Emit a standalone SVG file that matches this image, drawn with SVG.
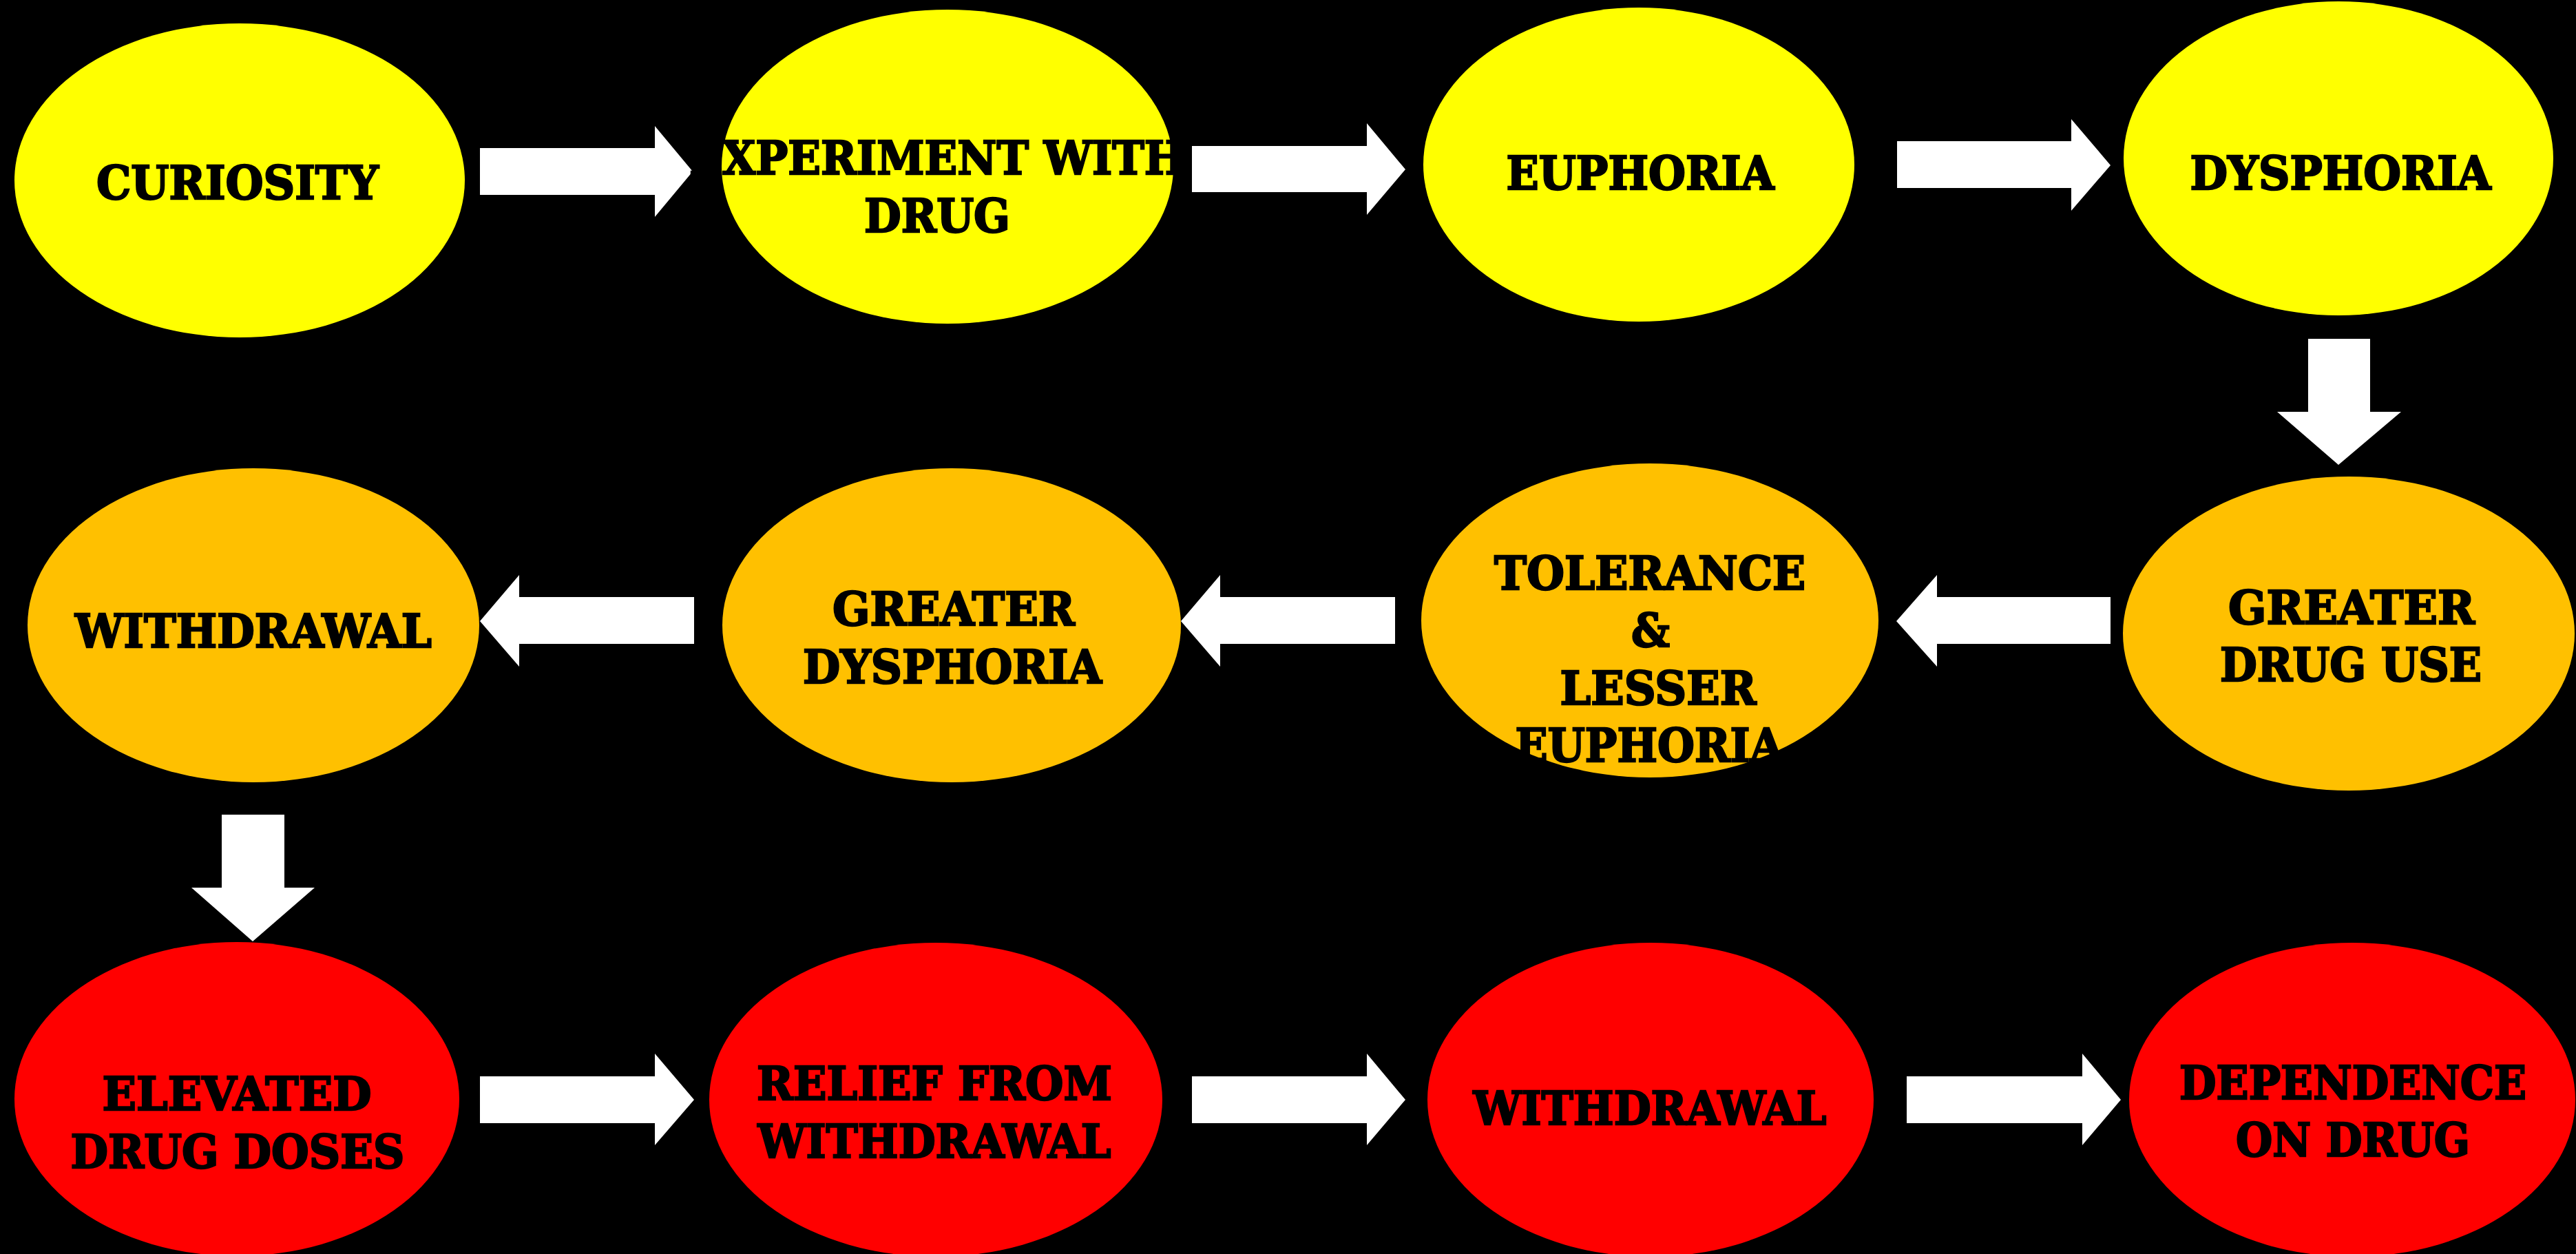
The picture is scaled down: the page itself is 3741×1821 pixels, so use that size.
<svg xmlns="http://www.w3.org/2000/svg" width="3741" height="1821" viewBox="0 0 3741 1821">
<style>
.y{fill:#FFFF00}.o{fill:#FFC000}.r{fill:#FF0000}
.t{font-family:"DejaVu Serif","Liberation Serif",serif;font-weight:bold;font-size:68px;fill:#000;stroke:#000;stroke-width:2.5px;text-anchor:middle}
.a{fill:#FFFFFF}
</style>
<rect x="0" y="0" width="3741" height="1821" fill="#000"/>
<g id="connectors">
<polygon class="a" points="697,215 951,215 951,183 1006,249 951,315 951,283 697,283"/>
<polygon class="a" points="1731,212 1985,212 1985,179 2041,246 1985,312 1985,279 1731,279"/>
<polygon class="a" points="2755,205 3008,205 3008,173 3065,240 3008,306 3008,273 2755,273"/>
<polygon class="a" points="3352,492 3442,492 3442,598 3487,598 3396,675 3307,598 3352,598"/>
<polygon class="a" points="3065,867 2813,867 2813,835 2754,902 2813,968 2813,935 3065,935"/>
<polygon class="a" points="2026,867 1772,867 1772,835 1715,902 1772,968 1772,935 2026,935"/>
<polygon class="a" points="1008,867 754,867 754,835 697,902 754,968 754,935 1008,935"/>
<polygon class="a" points="322,1183 413,1183 413,1289 457,1289 367,1367 278,1289 322,1289"/>
<polygon class="a" points="697,1563 951,1563 951,1530 1008,1597 951,1663 951,1631 697,1631"/>
<polygon class="a" points="1731,1563 1985,1563 1985,1530 2041,1597 1985,1663 1985,1631 1731,1631"/>
<polygon class="a" points="2769,1563 3024,1563 3024,1530 3080,1597 3024,1663 3024,1631 2769,1631"/>
</g>
<g id="curiosity"><ellipse class="y" cx="348" cy="262" rx="327" ry="228"/>
<text class="t" x="345" y="289" textLength="410" lengthAdjust="spacingAndGlyphs">CURIOSITY</text></g>
<g id="experiment"><ellipse class="y" cx="1376" cy="242" rx="328" ry="228"/>
<text class="t" x="1361" y="253" textLength="720" lengthAdjust="spacingAndGlyphs">EXPERIMENT WITH</text>
<text class="t" x="1361" y="337" textLength="212" lengthAdjust="spacingAndGlyphs">DRUG</text></g>
<g id="euphoria"><ellipse class="y" cx="2380" cy="239" rx="313" ry="228"/>
<text class="t" x="2382" y="275" textLength="389" lengthAdjust="spacingAndGlyphs">EUPHORIA</text></g>
<g id="dysphoria"><ellipse class="y" cx="3396" cy="230" rx="312" ry="228"/>
<text class="t" x="3399" y="275" textLength="437" lengthAdjust="spacingAndGlyphs">DYSPHORIA</text></g>
<g id="greater-drug-use"><ellipse class="o" cx="3411" cy="920" rx="328" ry="228"/>
<text class="t" x="3415" y="906" textLength="358" lengthAdjust="spacingAndGlyphs">GREATER</text>
<text class="t" x="3414" y="989" textLength="380" lengthAdjust="spacingAndGlyphs">DRUG USE</text></g>
<g id="tolerance"><ellipse class="o" cx="2396" cy="901" rx="332" ry="228"/>
<text class="t" x="2396" y="856" textLength="452" lengthAdjust="spacingAndGlyphs">TOLERANCE</text>
<text class="t" x="2397" y="939" textLength="56" lengthAdjust="spacingAndGlyphs">&amp;</text>
<text class="t" x="2408" y="1023" textLength="285" lengthAdjust="spacingAndGlyphs">LESSER</text>
<text class="t" x="2395" y="1106" textLength="389" lengthAdjust="spacingAndGlyphs">EUPHORIA</text></g>
<g id="greater-dysphoria"><ellipse class="o" cx="1382" cy="908" rx="333" ry="228"/>
<text class="t" x="1385" y="908" textLength="352" lengthAdjust="spacingAndGlyphs">GREATER</text>
<text class="t" x="1383" y="992" textLength="434" lengthAdjust="spacingAndGlyphs">DYSPHORIA</text></g>
<g id="withdrawal-1"><ellipse class="o" cx="368" cy="908" rx="328" ry="228"/>
<text class="t" x="368" y="940" textLength="518" lengthAdjust="spacingAndGlyphs">WITHDRAWAL</text></g>
<g id="elevated"><ellipse class="r" cx="344" cy="1596" rx="323" ry="228"/>
<text class="t" x="344" y="1612" textLength="391" lengthAdjust="spacingAndGlyphs">ELEVATED</text>
<text class="t" x="345" y="1696" textLength="485" lengthAdjust="spacingAndGlyphs">DRUG DOSES</text></g>
<g id="relief"><ellipse class="r" cx="1359" cy="1597" rx="329" ry="228"/>
<text class="t" x="1357" y="1597" textLength="516" lengthAdjust="spacingAndGlyphs">RELIEF FROM</text>
<text class="t" x="1357" y="1681" textLength="513" lengthAdjust="spacingAndGlyphs">WITHDRAWAL</text></g>
<g id="withdrawal-2"><ellipse class="r" cx="2397" cy="1597" rx="324" ry="228"/>
<text class="t" x="2396" y="1633" textLength="513" lengthAdjust="spacingAndGlyphs">WITHDRAWAL</text></g>
<g id="dependence"><ellipse class="r" cx="3416" cy="1597" rx="324" ry="228"/>
<text class="t" x="3417" y="1596" textLength="504" lengthAdjust="spacingAndGlyphs">DEPENDENCE</text>
<text class="t" x="3417" y="1679" textLength="340" lengthAdjust="spacingAndGlyphs">ON DRUG</text></g>
</svg>
